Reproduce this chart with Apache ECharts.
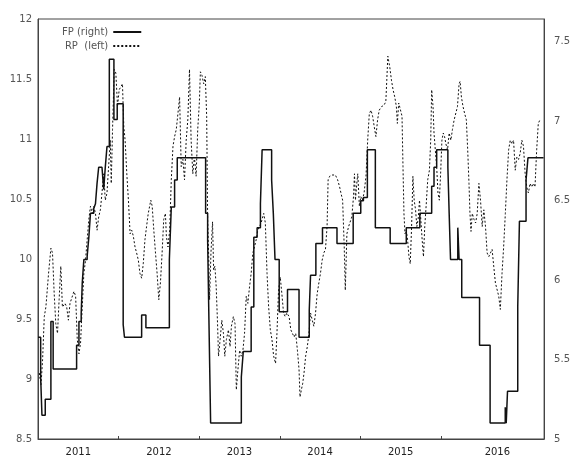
<!DOCTYPE html>
<html>
<head>
<meta charset="utf-8">
<script src="https://cdn.jsdelivr.net/npm/echarts@6/dist/echarts.min.js"></script>
<style>html,body{margin:0;padding:0;background:#fff;}#c{width:573px;height:457px;}</style>
</head>
<body>
<div id="c"></div>
<script>
// ---- data ----
const yearLabels = ['2011', '2012', '2013', '2014', '2015', '2016'];
const yearLabelAt = [2011.5, 2012.5, 2013.5, 2014.5, 2015.5, 2016.7];
const yearTicks = [2012, 2013, 2014, 2015, 2016];

// FP (right axis), step changes: value holds from fpYear[i] until fpYear[i+1]
const fpYear = [
  2011.000, 2011.033, 2011.049, 2011.090, 2011.160, 2011.188, 2011.479, 2011.508, 2011.536, 2011.549,
  2011.569, 2011.610, 2011.631, 2011.651, 2011.692, 2011.713, 2011.733, 2011.753, 2011.794, 2011.815,
  2011.835, 2011.856, 2011.885, 2011.942, 2011.983, 2012.057, 2012.073, 2012.286, 2012.339, 2012.630,
  2012.654, 2012.695, 2012.728, 2013.080, 2013.105, 2013.121, 2013.142, 2013.523, 2013.547, 2013.645,
  2013.678, 2013.719, 2013.760, 2013.781, 2013.899, 2013.920, 2013.941, 2013.993, 2014.096, 2014.239,
  2014.366, 2014.382, 2014.448, 2014.530, 2014.710, 2014.911, 2015.005, 2015.038, 2015.087, 2015.186,
  2015.370, 2015.570, 2015.738, 2015.885, 2015.914, 2015.947, 2016.086, 2016.102, 2016.119, 2016.209,
  2016.225, 2016.258, 2016.479, 2016.610, 2016.798, 2016.810, 2016.826, 2016.953, 2016.974, 2017.056,
  2017.080, 2017.273
];
const fpValue = [
  5.64, 5.39, 5.15, 5.25, 5.74, 5.44, 5.59, 5.74, 5.79, 5.98,
  6.13, 6.15, 6.27, 6.42, 6.45, 6.48, 6.61, 6.71, 6.70, 6.57,
  6.71, 6.84, 7.39, 7.01, 7.11, 5.72, 5.64, 5.78, 5.70, 6.13,
  6.46, 6.63, 6.77, 6.42, 6.25, 5.75, 5.10, 5.39, 5.55, 5.83,
  6.27, 6.33, 6.48, 6.82, 6.63, 6.42, 6.13, 5.80, 5.94, 5.64,
  5.81, 6.03, 6.23, 6.33, 6.23, 6.42, 6.50, 6.52, 6.82, 6.33,
  6.23, 6.33, 6.42, 6.59, 6.71, 6.82, 6.71, 6.42, 6.13, 6.33,
  6.13, 5.89, 5.59, 5.10, 5.20, 5.10, 5.30, 5.83, 6.37, 6.63,
  6.77, 6.77
];

// RP (left axis)
const rpYear = [
  2011.016, 2011.037, 2011.057, 2011.078, 2011.098, 2011.131, 2011.160, 2011.180, 2011.201, 2011.221,
  2011.242, 2011.262, 2011.283, 2011.303, 2011.336, 2011.356, 2011.377, 2011.397, 2011.418, 2011.446,
  2011.467, 2011.487, 2011.508, 2011.528, 2011.549, 2011.569, 2011.590, 2011.610, 2011.631, 2011.651,
  2011.672, 2011.692, 2011.713, 2011.733, 2011.753, 2011.774, 2011.794, 2011.815, 2011.835, 2011.856,
  2011.876, 2011.897, 2011.909, 2011.925, 2011.946, 2011.966, 2011.987, 2012.007, 2012.032, 2012.048,
  2012.065, 2012.081, 2012.102, 2012.122, 2012.143, 2012.163, 2012.183, 2012.204, 2012.224, 2012.245,
  2012.265, 2012.286, 2012.306, 2012.327, 2012.347, 2012.368, 2012.400, 2012.417, 2012.437, 2012.458,
  2012.478, 2012.499, 2012.519, 2012.540, 2012.560, 2012.581, 2012.593, 2012.613, 2012.634, 2012.654,
  2012.675, 2012.695, 2012.716, 2012.736, 2012.757, 2012.777, 2012.798, 2012.818, 2012.839, 2012.859,
  2012.880, 2012.900, 2012.921, 2012.941, 2012.962, 2012.982, 2013.002, 2013.015, 2013.035, 2013.056,
  2013.076, 2013.093, 2013.105, 2013.117, 2013.129, 2013.146, 2013.166, 2013.179, 2013.195, 2013.211,
  2013.228, 2013.240, 2013.260, 2013.281, 2013.301, 2013.318, 2013.338, 2013.363, 2013.383, 2013.400,
  2013.424, 2013.445, 2013.461, 2013.481, 2013.502, 2013.522, 2013.543, 2013.563, 2013.584, 2013.604,
  2013.625, 2013.645, 2013.666, 2013.686, 2013.707, 2013.727, 2013.748, 2013.768, 2013.801, 2013.821,
  2013.842, 2013.862, 2013.883, 2013.903, 2013.924, 2013.948, 2013.965, 2013.985, 2014.006, 2014.026,
  2014.047, 2014.067, 2014.088, 2014.116, 2014.137, 2014.157, 2014.178, 2014.198, 2014.219, 2014.239,
  2014.251, 2014.268, 2014.284, 2014.301, 2014.321, 2014.342, 2014.362, 2014.382, 2014.403, 2014.423,
  2014.444, 2014.464, 2014.485, 2014.505, 2014.526, 2014.546, 2014.567, 2014.587, 2014.600, 2014.620,
  2014.649, 2014.690, 2014.718, 2014.743, 2014.759, 2014.780, 2014.800, 2014.813, 2014.825, 2014.833,
  2014.854, 2014.874, 2014.894, 2014.915, 2014.927, 2014.939, 2014.956, 2014.968, 2014.988, 2015.005,
  2015.025, 2015.046, 2015.070, 2015.091, 2015.111, 2015.132, 2015.152, 2015.173, 2015.193, 2015.214,
  2015.234, 2015.263, 2015.291, 2015.316, 2015.328, 2015.341, 2015.353, 2015.365, 2015.386, 2015.406,
  2015.427, 2015.447, 2015.459, 2015.476, 2015.496, 2015.517, 2015.529, 2015.541, 2015.554, 2015.570,
  2015.586, 2015.603, 2015.619, 2015.636, 2015.652, 2015.668, 2015.685, 2015.701, 2015.717, 2015.734,
  2015.750, 2015.767, 2015.783, 2015.799, 2015.816, 2015.836, 2015.857, 2015.873, 2015.885, 2015.902,
  2015.914, 2015.930, 2015.947, 2015.963, 2015.980, 2015.996, 2016.012, 2016.029, 2016.045, 2016.061,
  2016.082, 2016.102, 2016.123, 2016.143, 2016.164, 2016.184, 2016.205, 2016.225, 2016.238, 2016.254,
  2016.274, 2016.295, 2016.315, 2016.332, 2016.348, 2016.360, 2016.373, 2016.389, 2016.410, 2016.430,
  2016.450, 2016.471, 2016.491, 2016.512, 2016.532, 2016.553, 2016.573, 2016.594, 2016.614, 2016.635,
  2016.655, 2016.676, 2016.696, 2016.717, 2016.737, 2016.758, 2016.778, 2016.799, 2016.819, 2016.840,
  2016.860, 2016.881, 2016.901, 2016.922, 2016.942, 2016.963, 2016.983, 2017.004, 2017.024, 2017.045,
  2017.065, 2017.085, 2017.106, 2017.126, 2017.147, 2017.167, 2017.188, 2017.208, 2017.229
];
const rpValue = [
  9.05, 8.95, 9.16, 9.52, 9.60, 9.88, 10.09, 10.05, 9.71, 9.46,
  9.38, 9.66, 9.94, 9.60, 9.63, 9.60, 9.49, 9.63, 9.63, 9.73,
  9.69, 9.33, 9.21, 9.30, 9.60, 9.88, 9.99, 10.16, 10.33, 10.44,
  10.38, 10.44, 10.38, 10.24, 10.35, 10.41, 10.55, 10.71, 10.49, 10.55,
  10.77, 10.99, 10.63, 11.08, 11.58, 11.55, 11.27, 11.41, 11.44, 11.46,
  11.10, 10.99, 10.71, 10.49, 10.21, 10.24, 10.19, 10.10, 10.05, 9.99,
  9.88, 9.84, 9.96, 10.16, 10.27, 10.38, 10.49, 10.44, 10.24, 10.05,
  9.88, 9.66, 9.80, 10.05, 10.33, 10.38, 10.19, 10.10, 10.24, 10.66,
  10.94, 11.02, 11.08, 11.21, 11.35, 10.77, 10.83, 10.66, 10.99, 11.16,
  11.58, 10.99, 10.71, 10.85, 10.69, 11.08, 11.30, 11.56, 11.53, 11.46,
  11.52, 11.19, 10.33, 10.05, 9.66, 10.05, 10.31, 9.91, 9.94, 9.77,
  9.46, 9.19, 9.33, 9.49, 9.38, 9.19, 9.33, 9.41, 9.27, 9.44,
  9.52, 9.46, 8.91, 9.08, 9.24, 9.19, 9.24, 9.38, 9.69, 9.63,
  9.77, 9.88, 10.05, 10.10, 10.16, 10.24, 10.27, 10.30, 10.38, 10.30,
  9.88, 9.60, 9.41, 9.33, 9.19, 9.13, 9.38, 9.74, 9.85, 9.71,
  9.55, 9.52, 9.55, 9.52, 9.41, 9.38, 9.35, 9.38, 9.24, 9.08,
  8.85, 8.91, 8.96, 9.05, 9.19, 9.27, 9.38, 9.55, 9.49, 9.44,
  9.55, 9.71, 9.80, 9.88, 9.99, 10.05, 10.08, 10.27, 10.66, 10.69,
  10.70, 10.70, 10.66, 10.60, 10.55, 10.49, 10.10, 9.74, 10.02, 10.21,
  10.27, 10.27, 10.35, 10.52, 10.71, 10.49, 10.63, 10.71, 10.44, 10.52,
  10.49, 10.55, 10.69, 10.99, 11.21, 11.24, 11.19, 11.10, 11.02, 11.16,
  11.24, 11.27, 11.28, 11.31, 11.49, 11.69, 11.70, 11.60, 11.49, 11.41,
  11.35, 11.27, 11.13, 11.30, 11.31, 11.19, 10.77, 10.38, 10.21, 10.24,
  10.16, 10.02, 9.96, 10.27, 10.69, 10.49, 10.41, 10.27, 10.33, 10.49,
  10.33, 10.16, 10.02, 10.27, 10.44, 10.66, 10.74, 10.99, 11.41, 11.27,
  11.05, 10.91, 10.77, 10.55, 10.49, 10.71, 10.99, 11.05, 11.02, 10.96,
  10.91, 11.05, 10.99, 11.08, 11.16, 11.16, 11.27, 11.46, 11.48, 11.35,
  11.27, 11.21, 11.16, 10.91, 10.63, 10.38, 10.23, 10.38, 10.33, 10.30,
  10.38, 10.63, 10.49, 10.27, 10.41, 10.27, 10.05, 10.02, 10.05, 10.08,
  9.94, 9.80, 9.80, 9.69, 9.58, 9.88, 10.10, 10.38, 10.66, 10.91,
  10.99, 10.96, 10.99, 10.74, 10.85, 10.83, 10.88, 10.99, 10.94, 10.71,
  10.60, 10.55, 10.63, 10.60, 10.63, 10.60, 10.91, 11.13, 11.16
];

// ---- chart ----
const fpData = fpYear.map((x, i) => [x, fpValue[i]]);
const rpData = rpYear.map((x, i) => [x, rpValue[i]]);
const FONT = 'DejaVu Sans';
const AX = '#444';

const chart = echarts.init(document.getElementById('c'), null, { renderer: 'canvas' });
chart.setOption({
  animation: false,
  backgroundColor: '#fff',
  grid: { left: 38, right: 24, top: 19, bottom: 18, show: true, borderColor: AX, borderWidth: 1, containLabel: false },
  legend: {
    orient: 'vertical', left: 57, top: 22, align: 'right',
    itemWidth: 28, itemHeight: 8, itemGap: 4,
    itemStyle: { opacity: 0 },
    textStyle: { fontFamily: FONT, fontSize: 10, color: '#555', width: 48 },
    data: ['FP (right)', 'RP  (left)']
  },
  xAxis: {
    type: 'value', min: 2011, max: 2017.28,
    splitLine: { show: false },
    axisLine: { lineStyle: { color: AX, width: 1 } },
    axisTick: { customValues: yearTicks, inside: true, length: 3, lineStyle: { color: AX } },
    axisLabel: {
      customValues: yearLabelAt,
      formatter: function (v) {
        let best = 0, d = 1e9;
        yearLabelAt.forEach((p, i) => { if (Math.abs(p - v) < d) { d = Math.abs(p - v); best = i; } });
        return yearLabels[best];
      },
      fontFamily: FONT, fontSize: 10, color: '#222', margin: 8
    }
  },
  yAxis: [
    {
      type: 'value', position: 'left', min: 8.5, max: 12, interval: 0.5,
      splitLine: { show: false },
      axisLine: { show: true, lineStyle: { color: AX } },
      axisTick: { show: false },
      axisLabel: { fontFamily: FONT, fontSize: 10, color: '#555', margin: 6 }
    },
    {
      type: 'value', position: 'right', min: 5, max: 7.643, interval: 0.5,
      splitLine: { show: false },
      axisLine: { show: true, lineStyle: { color: AX } },
      axisTick: { show: false },
      axisLabel: { fontFamily: FONT, fontSize: 10, color: '#555', margin: 10, showMaxLabel: false }
    }
  ],
  series: [
    {
      name: 'FP (right)', type: 'line', yAxisIndex: 1, step: 'end',
      symbol: 'none', data: fpData,
      lineStyle: { color: '#111', width: 1.5 },
      itemStyle: { color: '#111' }
    },
    {
      name: 'RP  (left)', type: 'line', yAxisIndex: 0,
      symbol: 'none', data: rpData,
      lineStyle: { color: '#111', width: 1, type: [2, 2] },
      itemStyle: { color: '#111' }
    }
  ]
});
</script>
</body>
</html>
